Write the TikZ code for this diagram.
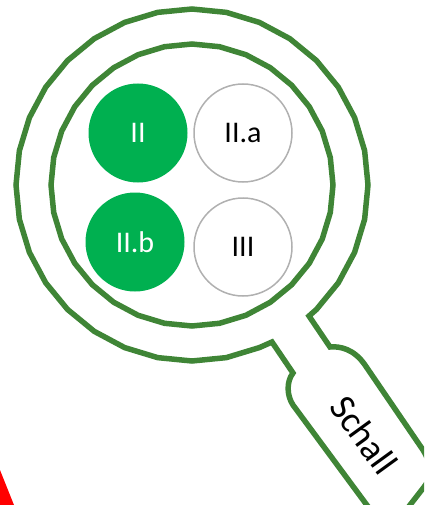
\documentclass[tikz,border=0pt]{standalone}
\usepackage{fontspec}
\setmainfont{Carlito}
\definecolor{ringgreen}{HTML}{3F8536}
\definecolor{fullgreen}{HTML}{00B050}
\definecolor{ringgray}{HTML}{B0B0B0}
\tikzset{x=1pt,y=-1pt,
    every node/.style={
        font=\fontsize{30}{30}\selectfont},
    ring/.style={
        draw=ringgreen,
        line width=5.5pt,
        line join=miter},
    fullstate/.style={
        circle,
        fill=fullgreen,
        text=white,
        inner sep=0pt,
        minimum size=99pt},
    openstate/.style={
        circle,
        draw=ringgray,
        line width=1.5pt,
        fill=white,
        text=black,
        inner sep=0pt,
        minimum size=98pt}}

\begin{document}
\begin{tikzpicture}
        \useasboundingbox (0,0) rectangle (424,505);
        \clip (0,0) rectangle (424,505);

        \fill[red] (-12,440) -- (14,505) -- (-12,505) -- cycle;

        % inner ring
        \draw[ring,shift={(192,185)}] (0:141)
            \foreach \a in {1,...,31} { -- ({\a*11.25}:141) } -- cycle;

        % outer ring with handle
        \draw[ring] (309,316) -- (330,347)
            .. controls (340,346) and (354,349) .. (365,365)
            -- (423,450)
            .. controls (431,462) and (432,478) .. (424,487)
            -- (410,505) -- (395,525) -- (372,512)
            -- (293,405)
            .. controls (287,396) and (286,382) .. (293,373)
            -- (272,342)
            \foreach \a in {67.5,78.75,...,405} { -- ([shift={(192,185)}]\a:176) }
            -- cycle;

        \node[fullstate] (s2) at (138,133) {II};
        \node[openstate] (s2a) at (243,133) {II.a};
        \node[fullstate] (s2b) at (135,242) {II.b};
        \node[openstate] (s3) at (243,247) {III};
        \node[rotate=-54,font=\fontsize{37}{37}\selectfont] (schall) at (364,435) {Schall};
    \end{tikzpicture}
\end{document}
